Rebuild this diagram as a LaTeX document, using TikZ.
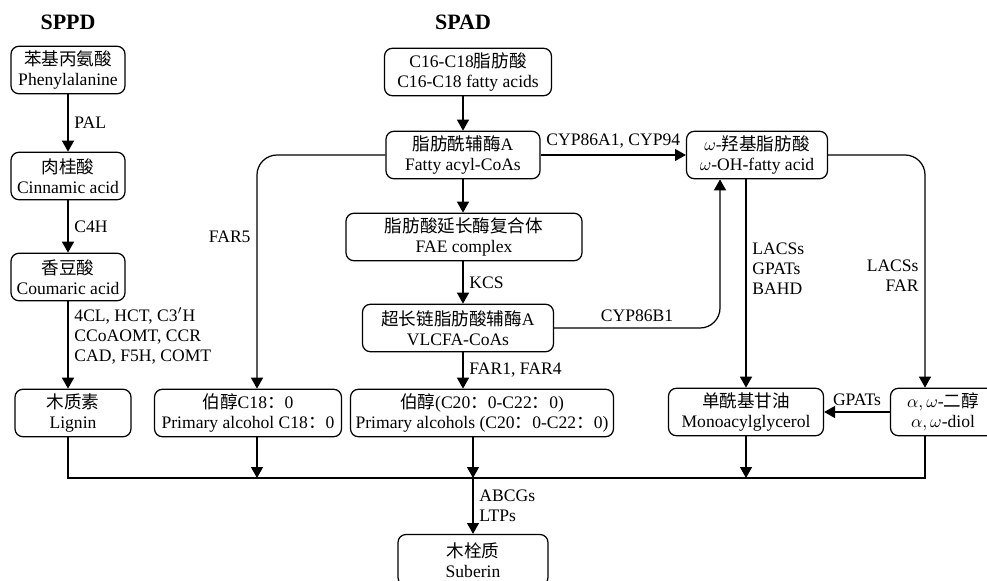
\documentclass[tikz,border=0pt]{standalone}
\usepackage{fontspec}
\setmainfont{Liberation Serif}
\newfontfamily\cjk{Noto Sans CJK SC}
\usetikzlibrary{arrows.meta}
\newcommand{\zh}[1]{{\cjk #1}}

\begin{document}
\begin{tikzpicture}[x=0.02cm, y=-0.02cm, line width=0.7pt,
    font=\fontsize{10}{11.5}\selectfont,
    pbox/.style={draw, rounded corners=4.5pt, align=center, minimum height=0.95cm, inner sep=2pt},
    arr/.style={-{Triangle[width=6.8pt,length=6.2pt]}},
    title/.style={font=\fontsize{12.5}{14}\selectfont\bfseries}]
    \useasboundingbox (0,0) rectangle (987,581);
    \node[title] (sppd) at (68,22) {SPPD};
    \node[title] (spad) at (463,22) {SPAD};
    % phenylpropanoid side
    \node[pbox, minimum width=2.28cm] (phe) at (68,70) {\zh{苯基丙氨酸}\\Phenylalanine};
    \node[pbox, minimum width=2.28cm] (cin) at (68,176) {\zh{肉桂酸}\\Cinnamic acid};
    \node[pbox, minimum width=2.28cm] (cou) at (68,277) {\zh{香豆酸}\\Coumaric acid};
    \node[pbox, minimum width=2.32cm] (lig) at (73,413) {\zh{木质素}\\Lignin};
    % aliphatic side
    \node[pbox, minimum width=3.34cm] (c16) at (468,72) {C16-C18\zh{脂肪酸}\\C16-C18 fatty acids};
    \node[pbox, minimum width=3.08cm] (acyl) at (463,155) {\zh{脂肪酰辅酶}A\\Fatty acyl-CoAs};
    \node[pbox, minimum width=4.72cm] (fae) at (464,237) {\zh{脂肪酸延长酶复合体}\\FAE complex};
    \node[pbox, minimum width=3.82cm] (vlcfa) at (458,328) {\zh{超长链脂肪酸辅酶}A\\VLCFA-CoAs};
    \node[pbox, minimum width=3.74cm] (alc18) at (248,413) {\zh{伯醇}C18\zh{：}0\\Primary alcohol C18\zh{：}0};
    \node[pbox, minimum width=5.26cm] (alc20) at (482,413) {\zh{伯醇}(C20\zh{：}0-C22\zh{：}0)\\Primary alcohols (C20\zh{：}0-C22\zh{：}0)};
    \node[pbox, minimum width=2.82cm] (ohfa) at (757,155) {$\omega$-\zh{羟基脂肪酸}\\$\omega$-OH-fatty acid};
    \node[pbox, minimum width=3.1cm] (mag) at (746,412) {\zh{单酰基甘油}\\Monoacylglycerol};
    \node[pbox, minimum width=2.1cm] (diol) at (943,412) {$\alpha,\omega$-\zh{二醇}\\$\alpha,\omega$-diol};
    \node[pbox, minimum width=3.0cm, minimum height=1.02cm] (sub) at (473,560) {\zh{木栓质}\\Suberin};
    \coordinate (bus) at (473,478);

    \draw[arr] (phe) -- (cin) node[midway, right] {PAL};
    \draw[arr] (cin) -- (cou) node[midway, right] {C4H};
    \draw[arr] (cou.south) -- (cou.south |- lig.north)
        node[pos=0.4, right, align=left] {4CL, HCT, C3$'$H\\CCoAOMT, CCR\\CAD, F5H, COMT};
    \draw[arr] (acyl.north |- c16.south) -- (acyl.north);
    \draw[arr] (acyl.south) -- (acyl.south |- fae.north);
    \draw[arr] (acyl.south |- fae.south) -- (acyl.south |- vlcfa.north) node[midway, right] {KCS};
    \draw[arr] (acyl.south |- vlcfa.south) -- (acyl.south |- alc20.north) node[midway, right] {FAR1, FAR4};
    \draw[arr, rounded corners=0.4cm] (acyl.west) -| ([xshift=0.18cm]alc18.north)
        node[pos=0.675, left] {FAR5};
    \draw[arr] (acyl.east) -- (ohfa.west) node[midway, above] {CYP86A1, CYP94};
    \draw[arr, rounded corners=0.4cm] (vlcfa.east) -| ([xshift=-0.74cm]ohfa.south)
        node[pos=0.25, above] {CYP86B1};
    \draw[arr] (mag.north |- ohfa.south) -- (mag.north)
        node[pos=0.43, right, align=left] {LACSs\\GPATs\\BAHD};
    \draw[arr, rounded corners=0.4cm] (ohfa.east) -| ([xshift=-0.36cm]diol.north)
        node[pos=0.76, left, align=right] {LACSs\\FAR};
    \draw[arr] (diol.west) -- (mag.east) node[midway, above] {GPATs};
    % collecting line
    \draw (lig.south -| cou.south) |- (bus) -| ([xshift=-0.36cm]diol.south);
    \draw[arr] ([xshift=0.18cm]alc18.south) -- ([xshift=0.18cm]alc18.south |- bus);
    \draw[arr] (bus |- alc20.south) -- (bus);
    \draw[arr] (mag.south) -- (mag.south |- bus);
    \draw[arr] (bus) -- (bus |- sub.north) node[midway, right, align=left] {ABCGs\\LTPs};
\end{tikzpicture}
\end{document}
